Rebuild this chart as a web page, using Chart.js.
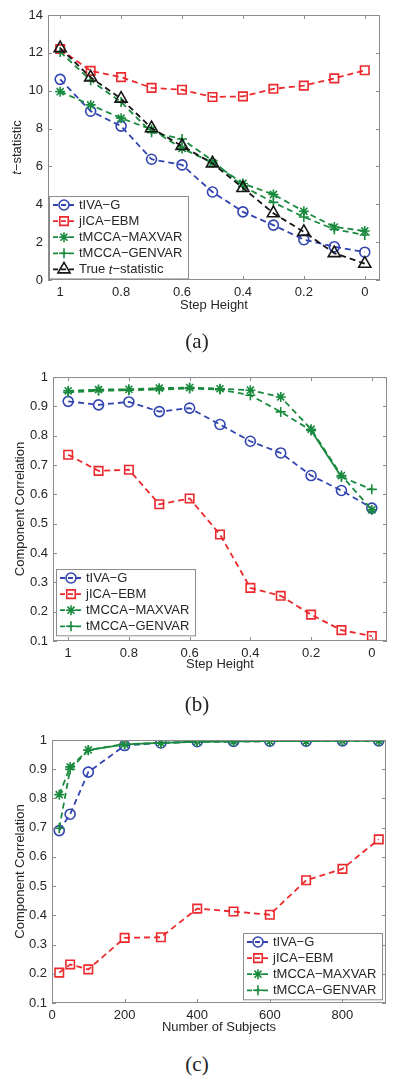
<!DOCTYPE html>
<html lang="en">
<head>
<meta charset="UTF-8">
<title>t-statistic and component correlation</title>
<script src="https://cdn.jsdelivr.net/npm/chart.js@4.4.0/dist/chart.umd.min.js"></script>
<style>
  body { margin: 0; background: #fff; width: 400px; height: 1088px; position: relative; overflow: hidden; }
  canvas { position: absolute; left: 0; }
  .cap { position: absolute; left: 0; width: 394px; text-align: center; line-height: 24px;
         font-family: 'Liberation Serif', 'Times New Roman', serif; font-size: 21px; color: #222; }
</style>
</head>
<body>
<canvas id="chartA" width="400" height="320" style="top:0"></canvas>
<canvas id="chartB" width="400" height="340" style="top:340px"></canvas>
<canvas id="chartC" width="400" height="340" style="top:700px"></canvas>
<div class="cap" style="top:329px">(a)</div>
<div class="cap" style="top:692px">(b)</div>
<div class="cap" style="top:1052px">(c)</div>

<script>
const stepHeight = [1, 0.9, 0.8, 0.7, 0.6, 0.5, 0.4, 0.3, 0.2, 0.1, 0];
const subjects = [20, 50, 100, 200, 300, 400, 500, 600, 700, 800, 900];

// (a) t-statistic vs step height
const tivaA   = [10.6, 8.92, 8.13, 6.38, 6.08, 4.65, 3.6, 2.9, 2.13, 1.76, 1.47];
const jicaA   = [12.2, 11.05, 10.72, 10.15, 10.05, 9.67, 9.7, 10.1, 10.27, 10.65, 11.08];
const maxvarA = [9.95, 9.25, 8.55, 7.95, 6.95, 6.2, 5.1, 4.52, 3.63, 2.8, 2.59];
const genvarA = [12.05, 10.55, 9.4, 7.8, 7.45, 6.3, 4.95, 4.1, 3.33, 2.68, 2.38];
const trueA   = [12.25, 10.7, 9.58, 8.02, 7.08, 6.16, 4.86, 3.53, 2.54, 1.42, 0.86];

// (b) component correlation vs step height
const tivaB   = [0.917, 0.905, 0.915, 0.882, 0.894, 0.838, 0.781, 0.741, 0.664, 0.613, 0.553];
const jicaB   = [0.735, 0.68, 0.684, 0.566, 0.586, 0.463, 0.281, 0.254, 0.19, 0.137, 0.117];
const maxvarB = [0.953, 0.957, 0.958, 0.962, 0.964, 0.96, 0.955, 0.932, 0.822, 0.664, 0.547];
const genvarB = [0.948, 0.953, 0.955, 0.957, 0.961, 0.957, 0.938, 0.881, 0.818, 0.659, 0.617];

// (c) component correlation vs number of subjects
const tivaC   = [0.69, 0.746, 0.89, 0.981, 0.99, 0.994, 0.995, 0.996, 0.996, 0.997, 0.997];
const jicaC   = [0.204, 0.232, 0.215, 0.323, 0.325, 0.423, 0.413, 0.402, 0.52, 0.559, 0.66];
const maxvarC = [0.813, 0.908, 0.966, 0.986, 0.99, 0.994, 0.995, 0.996, 0.996, 0.997, 0.997];
const genvarC = [0.698, 0.9, 0.965, 0.985, 0.99, 0.994, 0.995, 0.996, 0.996, 0.997, 0.997];

const stepTicks = [0, 0.2, 0.4, 0.6, 0.8, 1];
const tstatTicks = [0, 2, 4, 6, 8, 10, 12, 14];
const corrTicks = [0.1, 0.2, 0.3, 0.4, 0.5, 0.6, 0.7, 0.8, 0.9, 1];
const subjectTicks = [0, 200, 400, 600, 800];

const names = ['tIVA\u2212G', 'jICA\u2212EBM', 'tMCCA\u2212MAXVAR', 'tMCCA\u2212GENVAR', 'True *t*\u2212statistic'];

const FONT = "'Liberation Sans', Arial, Helvetica, sans-serif";
const TEXT = '#262626';
const FRAME = '#8c8c8c';
Chart.defaults.font.family = FONT;
Chart.defaults.font.size = 13;
Chart.defaults.color = TEXT;

const looks = [
  { color: '#3244b0', pointStyle: 'circle', radius: 5 },
  { color: '#ec2a2e', pointStyle: 'rect', radius: 6 },
  { color: '#1a8a3e', pointStyle: 'star', radius: 5 },
  { color: '#1a8a3e', pointStyle: 'cross', radius: 5 },
  { color: '#151515', pointStyle: 'triangle', radius: 7 }
];

// where the two green dashed lines overlap they read as one solid line
function series(xs, ys, i, n, solidWhere) {
  const lk = looks[i];
  const ds = {
    label: names[i],
    data: xs.map((x, k) => ({ x: x, y: ys[k] })),
    borderColor: lk.color,
    borderWidth: 1.8,
    borderDash: [6, 4],
    pointStyle: lk.pointStyle,
    pointRadius: lk.radius,
    pointBorderWidth: 1.6,
    pointBorderColor: lk.color,
    pointBackgroundColor: 'rgba(0,0,0,0)',
    fill: false,
    tension: 0,
    order: n - i
  };
  if (i === 3 && solidWhere) {
    ds.segment = { borderDash: c => solidWhere(c.p0.parsed.x) ? [] : undefined };
  }
  return ds;
}

// text with *italic* parts
function richText(ctx, str, x, y) {
  let cx = x;
  str.split('*').forEach((p, k) => {
    ctx.font = (k % 2 ? 'italic ' : '') + '13px ' + FONT;
    ctx.fillText(p, cx, y);
    cx += ctx.measureText(p).width;
  });
}
function richWidth(ctx, str) {
  let w = 0;
  str.split('*').forEach((p, k) => {
    ctx.font = (k % 2 ? 'italic ' : '') + '13px ' + FONT;
    w += ctx.measureText(p).width;
  });
  return w;
}

// box and inward tick marks, matlab style
const framePlugin = {
  id: 'frame',
  afterDatasetsDraw(chart) {
    const { ctx, chartArea: a, scales: { x, y } } = chart;
    ctx.save();
    ctx.strokeStyle = FRAME;
    ctx.lineWidth = 1;
    ctx.strokeRect(Math.round(a.left) + 0.5, Math.round(a.top) + 0.5, Math.round(a.width) - 1, Math.round(a.height) - 1);
    ctx.beginPath();
    x.ticks.forEach(t => {
      const px = Math.round(x.getPixelForValue(t.value)) + 0.5;
      ctx.moveTo(px, a.bottom); ctx.lineTo(px, a.bottom - 4);
      ctx.moveTo(px, a.top); ctx.lineTo(px, a.top + 4);
    });
    y.ticks.forEach(t => {
      const py = Math.round(y.getPixelForValue(t.value)) + 0.5;
      ctx.moveTo(a.left, py); ctx.lineTo(a.left + 4, py);
      ctx.moveTo(a.right, py); ctx.lineTo(a.right - 4, py);
    });
    ctx.stroke();
    ctx.restore();
  }
};

const yTitlePlugin = {
  id: 'yTitle',
  afterDraw(chart, args, opts) {
    const { ctx, chartArea: a } = chart;
    ctx.save();
    ctx.fillStyle = TEXT;
    ctx.textBaseline = 'middle';
    ctx.translate(opts.x, (a.top + a.bottom) / 2);
    ctx.rotate(-Math.PI / 2);
    const w = richWidth(ctx, opts.text);
    richText(ctx, opts.text, -w / 2, 0);
    ctx.restore();
  }
};

const boxLegend = {
  id: 'boxLegend',
  afterDraw(chart, args, opts) {
    const { ctx, chartArea: a } = chart;
    const sets = chart.data.datasets;
    const rowH = 16.1, w = 139;
    const h = (sets.length - 1) * rowH + 18;
    const left = Math.round(opts.right != null ? a.right - opts.right - w : a.left + opts.left);
    const top = Math.round(a.bottom - opts.bottom - h);
    ctx.save();
    ctx.fillStyle = '#fff';
    ctx.fillRect(left, top, w, h);
    ctx.strokeStyle = FRAME;
    ctx.lineWidth = 1;
    ctx.strokeRect(left + 0.5, top + 0.5, w, h);
    sets.forEach((ds, i) => {
      const cy = top + 9 + i * rowH;
      ctx.strokeStyle = ds.borderColor;
      ctx.lineWidth = ds.borderWidth;
      ctx.setLineDash([5, 3]);
      ctx.beginPath();
      ctx.moveTo(left + 4, cy); ctx.lineTo(left + 26, cy);
      ctx.stroke();
      ctx.setLineDash([]);
      ctx.lineWidth = ds.pointBorderWidth;
      ctx.fillStyle = 'rgba(0,0,0,0)';
      Chart.helpers.drawPoint(ctx, { pointStyle: ds.pointStyle, radius: ds.pointRadius, rotation: 0, borderWidth: ds.pointBorderWidth }, left + 15, cy);
      ctx.fillStyle = TEXT;
      ctx.textBaseline = 'middle';
      ctx.textAlign = 'left';
      richText(ctx, ds.label, left + 30, cy + 0.5);
    });
    ctx.restore();
  }
};

function makeChart(id, cfg) {
  return new Chart(document.getElementById(id), {
    type: 'line',
    data: { datasets: cfg.datasets },
    plugins: [framePlugin, yTitlePlugin, boxLegend],
    options: {
      responsive: false,
      animation: false,
      events: [],
      layout: { padding: cfg.padding },
      plugins: {
        legend: { display: false },
        tooltip: { enabled: false },
        yTitle: cfg.yTitle,
        boxLegend: cfg.legend
      },
      scales: {
        x: {
          type: 'linear',
          min: cfg.xMin, max: cfg.xMax, reverse: cfg.reverse,
          grid: { display: false, drawTicks: false },
          border: { display: false },
          afterBuildTicks: s => { s.ticks = cfg.xTicks.map(v => ({ value: v })); },
          afterFit: s => { s.height = cfg.xHeight; },
          ticks: { padding: 5, maxRotation: 0, autoSkip: false, callback: v => String(v) },
          title: { display: true, text: cfg.xTitle, padding: { top: 0, bottom: cfg.xTitlePad } }
        },
        y: {
          type: 'linear',
          min: cfg.yMin, max: cfg.yMax,
          grid: { display: false, drawTicks: false },
          border: { display: false },
          afterBuildTicks: s => { s.ticks = cfg.yTicks.map(v => ({ value: v })); },
          afterFit: s => { s.width = cfg.yWidth; },
          ticks: { padding: 5, autoSkip: false, callback: v => String(v) }
        }
      }
    }
  });
}

makeChart('chartA', {
  datasets: [tivaA, jicaA, maxvarA, genvarA, trueA].map((ys, i) => series(stepHeight, ys, i, 5)),
  padding: { top: 15, right: 20, left: 0, bottom: 0 },
  xMin: -0.05, xMax: 1.04, reverse: true, xTicks: stepTicks, xHeight: 40, xTitle: 'Step Height', xTitlePad: 7,
  yMin: 0, yMax: 14, yTicks: tstatTicks, yWidth: 48,
  yTitle: { text: '*t*\u2212statistic', x: 17 },
  legend: { left: 1, bottom: 2 }
});

makeChart('chartB', {
  datasets: [tivaB, jicaB, maxvarB, genvarB].map((ys, i) => series(stepHeight, ys, i, 4, x => Math.abs(x - 0.2) < 1e-9)),
  padding: { top: 37, right: 13, left: 0, bottom: 0 },
  xMin: -0.05, xMax: 1.05, reverse: true, xTicks: stepTicks, xHeight: 39, xTitle: 'Step Height', xTitlePad: 8,
  yMin: 0.1, yMax: 1, yTicks: corrTicks, yWidth: 53,
  yTitle: { text: 'Component Correlation', x: 20 },
  legend: { left: 3, bottom: 6 }
});

makeChart('chartC', {
  datasets: [tivaC, jicaC, maxvarC, genvarC].map((ys, i) => series(subjects, ys, i, 4, x => x >= 100)),
  padding: { top: 40, right: 14, left: 0, bottom: 0 },
  xMin: 0, xMax: 920, reverse: false, xTicks: subjectTicks, xHeight: 37, xTitle: 'Number of Subjects', xTitlePad: 5,
  yMin: 0.1, yMax: 1, yTicks: corrTicks, yWidth: 52,
  yTitle: { text: 'Component Correlation', x: 20 },
  legend: { right: 4, bottom: 4 }
});
</script>
</body>
</html>
